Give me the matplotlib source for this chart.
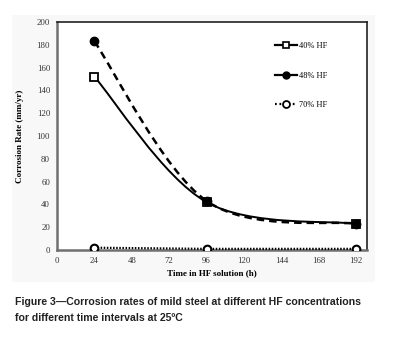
import matplotlib
matplotlib.use("Agg")
import matplotlib.pyplot as plt
from matplotlib.path import Path
from matplotlib.patches import PathPatch, Rectangle
from matplotlib.lines import Line2D

# data
hours = [24, 96, 192]
hf40 = [152, 42, 23]
hf48 = [183, 43, 23]
hf70 = [2, 1, 1]
labels = ['40% HF', '48% HF', '70% HF']
x_ticks = [0, 24, 48, 72, 96, 120, 144, 168, 192]
y_ticks = [0, 20, 40, 60, 80, 100, 120, 140, 160, 180, 200]

serif = 'Liberation Serif'


def smooth_path(xs, ys):
    # Excel-style smoothed line: cubic bezier segments through the points
    pts = list(zip(xs, ys))
    verts = [pts[0]]
    codes = [Path.MOVETO]
    for i in range(len(pts) - 1):
        p0 = pts[i - 1] if i > 0 else pts[i]
        p1 = pts[i]
        p2 = pts[i + 1]
        p3 = pts[i + 2] if i + 2 < len(pts) else pts[i + 1]
        c1 = (p1[0] + (p2[0] - p0[0]) / 6, p1[1] + (p2[1] - p0[1]) / 6)
        c2 = (p2[0] - (p3[0] - p1[0]) / 6, p2[1] - (p3[1] - p1[1]) / 6)
        verts += [c1, c2, p2]
        codes += [Path.CURVE4] * 3
    return Path(verts, codes)


fig = plt.figure(figsize=(3.94, 3.46), dpi=100)
fig.patches.append(Rectangle((12 / 394, 1 - 282 / 346), 363 / 394, 267 / 346,
                             transform=fig.transFigure, facecolor='#f8f8f8',
                             edgecolor='none', zorder=-1))
ax = fig.add_axes([57 / 394, 1 - 250 / 346, 310 / 394, 228 / 346])
ax.set_facecolor('white')

ax.add_patch(PathPatch(smooth_path(hours, hf40), fill=False, edgecolor='black',
                       linewidth=1.4, zorder=3))
ax.add_patch(PathPatch(smooth_path(hours, hf48), fill=False, edgecolor='black',
                       linewidth=1.8, linestyle=(0, (3, 2)), zorder=3))
ax.plot(hours, hf70, color='black', linewidth=1.6, linestyle=(0, (0.7, 0.7)), zorder=3)

ax.plot(hours, hf40, linestyle='none', marker='s', markersize=6,
        markerfacecolor='white', markeredgecolor='black', markeredgewidth=1.3, zorder=4)
ax.plot(hours, hf48, linestyle='none', marker='o', markersize=6,
        markerfacecolor='black', markeredgecolor='black', zorder=5)
ax.plot(hours, hf70, linestyle='none', marker='o', markersize=5.5,
        markerfacecolor='white', markeredgecolor='black', markeredgewidth=1.5, zorder=4)

ax.set_xlim(0, 199)
ax.set_ylim(0, 200)
ax.set_xticks(x_ticks)
ax.set_yticks(y_ticks)
ax.tick_params(length=0, labelsize=6.3, pad=5)
for lab in ax.get_xticklabels() + ax.get_yticklabels():
    lab.set_family(serif)
    lab.set_color('#333333')

for side in ['left', 'bottom']:
    ax.spines[side].set_color('#707070')
    ax.spines[side].set_linewidth(1.8)
for side in ['top', 'right']:
    ax.spines[side].set_color('#222222')
    ax.spines[side].set_linewidth(1.2)

ax.set_xlabel('Time in HF solution (h)', fontsize=6.5, fontweight='bold',
              family=serif, labelpad=3)
ax.set_ylabel('Corrosion Rate (mm/yr)', fontsize=6.5, fontweight='bold',
              family=serif, labelpad=9)

handles = [
    Line2D([], [], color='black', linewidth=1.6, marker='s', markersize=5,
           markerfacecolor='white', markeredgewidth=1.2),
    Line2D([], [], color='black', linewidth=1.6, marker='o', markersize=5,
           markerfacecolor='black'),
    Line2D([], [], color='black', linewidth=1.6, linestyle=(0, (0.8, 1.2)), marker='o',
           markersize=5, markerfacecolor='white', markeredgewidth=1.3),
]
ax.legend(handles, labels, loc='upper right', bbox_to_anchor=(0.895, 0.945),
          frameon=False, prop={'family': serif, 'size': 6},
          handlelength=2.6, handletextpad=0.2, labelspacing=2.6)

fig.text(15 / 394, 1 - 302 / 346, 'Figure 3\u2014Corrosion rates of mild steel at different HF concentrations',
         fontsize=7.6, fontweight='bold', family='Liberation Sans', color='#222222',
         va='center')
fig.text(15 / 394, 1 - 318 / 346, 'for different time intervals at 25\u00baC',
         fontsize=7.6, fontweight='bold', family='Liberation Sans', color='#222222',
         va='center')

plt.savefig('out.png', dpi=100)
plt.close()
